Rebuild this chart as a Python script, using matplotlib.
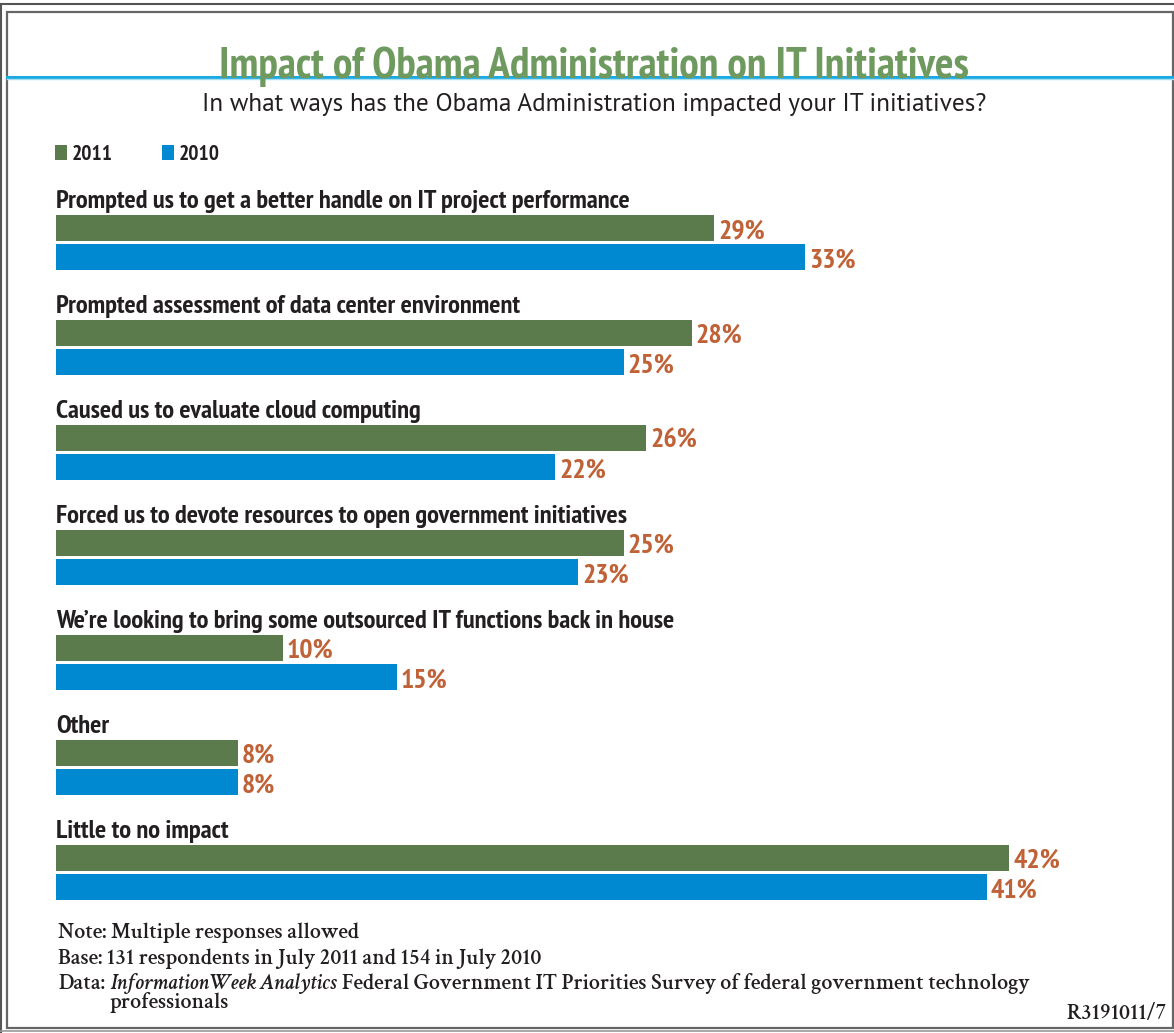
import matplotlib
matplotlib.use("Agg")
import warnings
import matplotlib.pyplot as plt
from matplotlib.patches import Rectangle
from matplotlib.lines import Line2D

warnings.filterwarnings("ignore")

# ------------------------
# Survey data
# ------------------------
categories = [
    "Prompted us to get a better handle on IT project performance",
    "Prompted assessment of data center environment",
    "Caused us to evaluate cloud computing",
    "Forced us to devote resources to open government initiatives",
    "We\u2019re looking to bring some outsourced IT functions back in house",
    "Other",
    "Little to no impact",
]
values_2011 = [29, 28, 26, 25, 10, 8, 42]
values_2010 = [33, 25, 22, 23, 15, 8, 41]
series_names = ["2011", "2010"]

title = "Impact of Obama Administration on IT Initiatives"
subtitle = "In what ways has the Obama Administration impacted your IT initiatives?"
notes = [
    "Note: Multiple responses allowed",
    "Base: 131 respondents in July 2011 and 154 in July 2010",
]
data_label = "Data:"
data_source = "InformationWeek Analytics"
data_rest = "Federal Government IT Priorities Survey of federal government technology"
data_wrap = "professionals"
source_code = "R3191011/7"

# ------------------------
# Styling
# ------------------------
GREEN = "#5b7b4c"
BLUE = "#0088d1"
VALUE_COLOR = "#c06237"
TITLE_COLOR = "#6f9a5f"
TEXT_COLOR = "#231f20"
NARROW = ["PT Sans Narrow", "Asap Condensed", "Archivo Narrow", "DejaVu Sans"]
SANS = ["PT Sans", "Open Sans", "DejaVu Sans"]
SERIF = ["Crimson Text", "EB Garamond", "Liberation Serif"]

W, H = 1174, 1033
fig = plt.figure(figsize=(W / 100, H / 100), dpi=100)
fig.patch.set_facecolor("white")
renderer = fig.canvas.get_renderer()


def px(x, y):
    """pixel position (from top-left) to figure fraction"""
    return x / W, 1 - y / H


def width(t):
    return t.get_window_extent(renderer).width


def fit(t, target):
    """rescale a text so that it spans target pixels"""
    t.set_fontsize(t.get_fontsize() * target / width(t))
    return t


# frame lines
frame = fig.add_axes([0, 0, 1, 1])
frame.set_xlim(0, W)
frame.set_ylim(H, 0)
frame.axis("off")
frame.add_line(Line2D([0, W], [3.5, 3.5], color="#555555", lw=1.5))
frame.add_line(Line2D([1, 1], [3.5, H], color="#555555", lw=1.5))
frame.add_patch(Rectangle((6.5, 11.5), 1166, 1016, fill=False,
                          ec="#666666", lw=1.6))
frame.add_line(Line2D([0, W], [1031, 1031], color="#999999", lw=1.2))
# blue rule under the title
frame.add_line(Line2D([7, W], [77, 77], color="#1aa9e0", lw=2.2))
frame.add_line(Line2D([7, W], [79.3, 79.3], color="#a6def2", lw=1.0))

t = fig.text(*px(594, 78), title, ha="center", va="baseline",
             color=TITLE_COLOR, fontsize=30, fontweight="bold", family=NARROW)
fit(t, 748)
t = fig.text(*px(594, 111), subtitle, ha="center", va="baseline",
             color=TEXT_COLOR, fontsize=16, fontweight="normal", family=SANS)
fit(t, 788)

# legend
for (lx, name, col) in [(55, series_names[0], GREEN), (162, series_names[1], BLUE)]:
    frame.add_patch(Rectangle((lx, 145), 12, 15, color=col, lw=0))
    t = frame.text(lx + 17, 160, name, ha="left", va="baseline",
                   color=TEXT_COLOR, fontsize=13, fontweight="bold",
                   family=NARROW)
    fit(t, 41)

# ------------------------
# Bars
# ------------------------
ax_left, ax_right = 56, 56 + 22.7 * 45
ax_top, ax_bot = 180, 900
pitch = 105.0
ax = fig.add_axes([ax_left / W, 1 - ax_bot / H,
                   (ax_right - ax_left) / W, (ax_bot - ax_top) / H])
ax.set_xlim(0, 45)
ax.set_ylim((ax_bot - 227.5) / pitch, (ax_top - 227.5) / pitch)
ax.axis("off")

bar_h = 26 / pitch
off_blue = 29.5 / pitch
off_label = 19.5 / pitch
off_value = 10.5 / pitch
rows = range(len(categories))
ax.barh([i for i in rows], values_2011, height=bar_h, color=GREEN, lw=0)
ax.barh([i + off_blue for i in rows], values_2010, height=bar_h, color=BLUE, lw=0)

cat_texts = [ax.text(0, i - off_label, cat, ha="left", va="baseline",
                     color=TEXT_COLOR, fontsize=15, fontweight="bold",
                     family=NARROW)
             for i, cat in enumerate(categories)]
fit(cat_texts[0], 577)
for t in cat_texts[1:]:
    t.set_fontsize(cat_texts[0].get_fontsize())

val_texts = []
for i in rows:
    for v, y in [(values_2011[i], i), (values_2010[i], i + off_blue)]:
        val_texts.append(ax.text(v + 0.18, y + off_value, f"{v}%", ha="left",
                                 va="baseline", color=VALUE_COLOR, fontsize=17,
                                 fontweight="bold", family=NARROW))
fit(val_texts[0], 47)
for t in val_texts[1:]:
    t.set_fontsize(val_texts[0].get_fontsize())

# ------------------------
# Footnotes
# ------------------------
note_kw = dict(ha="left", va="baseline", color=TEXT_COLOR, fontsize=12,
               fontweight="semibold", family=SERIF)
note_texts = [
    fig.text(*px(58, 938), notes[0], **note_kw),
    fig.text(*px(58, 964), notes[1], **note_kw),
    fig.text(*px(58, 989), data_label, **note_kw),
    fig.text(*px(109, 989), data_source, fontstyle="italic", **note_kw),
    fig.text(*px(349, 989), data_rest, **note_kw),
    fig.text(*px(109, 1008), data_wrap, **note_kw),
]
code_text = fig.text(*px(1167, 1019), source_code,
                     **{**note_kw, "ha": "right"})
note_texts.append(code_text)

# one common size, scaled so the lines span about as far as they should
spans = [297, 507, 46, 234, 671, 116, 92]
scale = sum(spans) / sum(width(t) for t in note_texts)
for t in note_texts:
    t.set_fontsize(t.get_fontsize() * scale)
# keep the "Data:" line pieces butted together, wrapped line hangs
# under the source name
x_src = 58 + width(note_texts[2]) + 5
note_texts[3].set_position(px(x_src, 989))
note_texts[5].set_position(px(x_src, 1008))
note_texts[4].set_position(px(x_src + width(note_texts[3]) + 5, 989))

fig.savefig("out.png", dpi=100, facecolor="white")
